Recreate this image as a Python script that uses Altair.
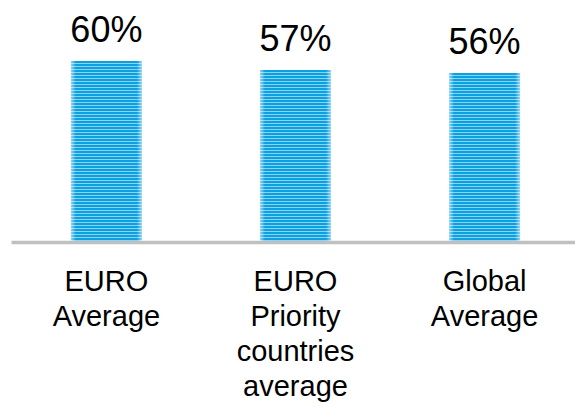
import altair as alt
import pandas as pd

categories = ["EURO\nAverage", "EURO\nPriority\ncountries\naverage", "Global\nAverage"]
values = [60, 57, 56]
value_labels = ["60%", "57%", "56%"]

df = pd.DataFrame({"cat": categories, "val": values, "lab": value_labels})

PX_PER_UNIT = 3.0
H = 241
dark = "#0AA1E2"
light = "#8CD2F2"


def stripe_fill(n):
    stops = []
    for k in range(n):
        a = k / n
        b = (k + 0.64) / n
        c = (k + 1) / n
        stops += [alt.GradientStop(offset=a, color=dark), alt.GradientStop(offset=b, color=dark),
                  alt.GradientStop(offset=b, color=light), alt.GradientStop(offset=c, color=light)]
    return alt.LinearGradient(gradient="linear", stops=stops, x1=0, x2=0, y1=0, y2=1)


edge = alt.LinearGradient(
    gradient="linear",
    stops=[
        alt.GradientStop(offset=0, color="rgba(255,255,255,0.55)"),
        alt.GradientStop(offset=0.07, color="rgba(255,255,255,0)"),
        alt.GradientStop(offset=0.93, color="rgba(255,255,255,0)"),
        alt.GradientStop(offset=1, color="rgba(255,255,255,0.55)"),
    ],
    x1=0, x2=1, y1=0, y2=0,
)

xenc = alt.X(
    "cat:N",
    sort=categories,
    title=None,
    scale=alt.Scale(paddingInner=0.625, paddingOuter=0.317, range=[0, 569]),
    axis=alt.Axis(
        labelAngle=0,
        labelExpr="split(datum.label, '\\n')",
        labelFont="Liberation Sans",
        labelFontSize=29,
        labelLineHeight=35,
        labelColor="#000000",
        labelPadding=25,
        labelBaseline="top",
        ticks=False,
        domainColor="#C0C0C0",
        domainWidth=3.5,
        offset=1,
        grid=False,
    ),
)
yenc = alt.Y("val:Q", scale=alt.Scale(domain=[0, H / PX_PER_UNIT], nice=False), axis=None)

base = alt.Chart(df)
layers = []
for c, v in zip(categories, values):
    n = int(round(v * PX_PER_UNIT / 3))
    layers.append(
        base.transform_filter(alt.datum.cat == c).mark_bar(color=stripe_fill(n)).encode(x=xenc, y=yenc)
    )
edges = base.mark_bar(color=edge).encode(x=xenc, y=yenc)
text = base.mark_text(
    baseline="alphabetic", dy=-19, font="Liberation Sans", fontSize=36, color="#000000"
).encode(x=xenc, y=yenc, text="lab:N")

chart = (
    alt.layer(*layers, edges, text)
    .properties(width=564, height=H, autosize=alt.AutoSizeParams(type="none"),
                padding={"left": 11, "top": 0, "right": 0, "bottom": 407 - H})
    .configure(background="white")
    .configure_view(stroke=None, strokeWidth=0)
)

chart.save("out.html", embed_options={"renderer": "svg", "actions": False})
